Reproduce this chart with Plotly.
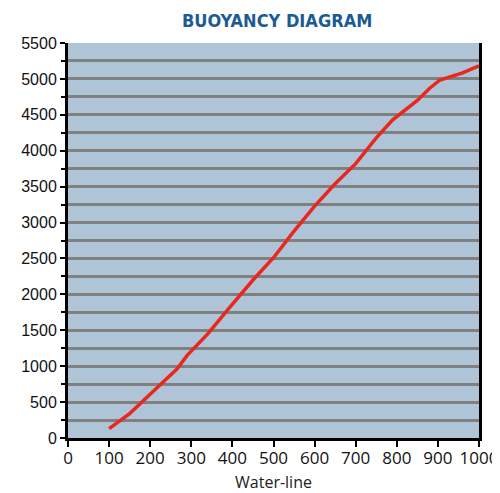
import plotly.graph_objects as go

water_line = [100, 150, 185, 225, 265, 290, 340, 395, 450, 500, 550, 600, 650, 700, 750, 790, 850, 880, 905, 960, 1000]
buoyancy = [130, 340, 530, 740, 960, 1150, 1450, 1830, 2200, 2510, 2880, 3230, 3540, 3820, 4180, 4430, 4700, 4870, 4985, 5085, 5180]

x_ticks = [0, 100, 200, 300, 400, 500, 600, 700, 800, 900, 1000]
y_ticks = [0, 500, 1000, 1500, 2000, 2500, 3000, 3500, 4000, 4500, 5000, 5500]

fig = go.Figure()
fig.add_trace(go.Scatter(
    x=water_line, y=buoyancy, mode="lines",
    line=dict(color="#e8281e", width=3.5),
    showlegend=False,
))

fig.update_layout(
    width=492, height=485,
    margin=dict(l=60, r=21, t=35, b=55, autoexpand=False),
    paper_bgcolor="white",
    plot_bgcolor="#b0c4d8",
    title=dict(
        text="<b>BUOYANCY DIAGRAM</b>",
        x=0.547, xanchor="center", y=0.973, yanchor="middle",
        font=dict(family="DejaVu Sans Condensed, Liberation Sans Narrow, Open Sans", size=18, color="#1b5c94"),
    ),
)
fig.update_xaxes(
    range=[0, 1000], tickvals=x_ticks, ticktext=[str(v) for v in x_ticks],
    showgrid=False, zeroline=False, automargin=False,
    showline=True, linecolor="black", linewidth=3,
    ticks="outside", ticklen=6, tickwidth=2, tickcolor="black",
    ticklabelstandoff=-3,
    tickfont=dict(family="Open Sans, Lato", size=17, color="#111"),
    title=dict(text="Water-line", font=dict(family="Open Sans, Lato", size=16, color="#222"), standoff=9),
)
fig.update_yaxes(
    range=[0, 5500], tickvals=y_ticks, ticktext=[str(v) for v in y_ticks],
    showgrid=True, gridcolor="#808080", gridwidth=3,
    zeroline=False, automargin=False,
    showline=True, linecolor="black", linewidth=3, mirror=True,
    ticks="outside", ticklen=5, tickwidth=2, tickcolor="black",
    tickfont=dict(family="Liberation Sans, Arial", size=16, color="#111"),
    minor=dict(dtick=250, showgrid=True, gridcolor="#808080", gridwidth=3,
               ticks="outside", ticklen=4, tickwidth=2, tickcolor="black"),
)

fig.write_html("out.html")
